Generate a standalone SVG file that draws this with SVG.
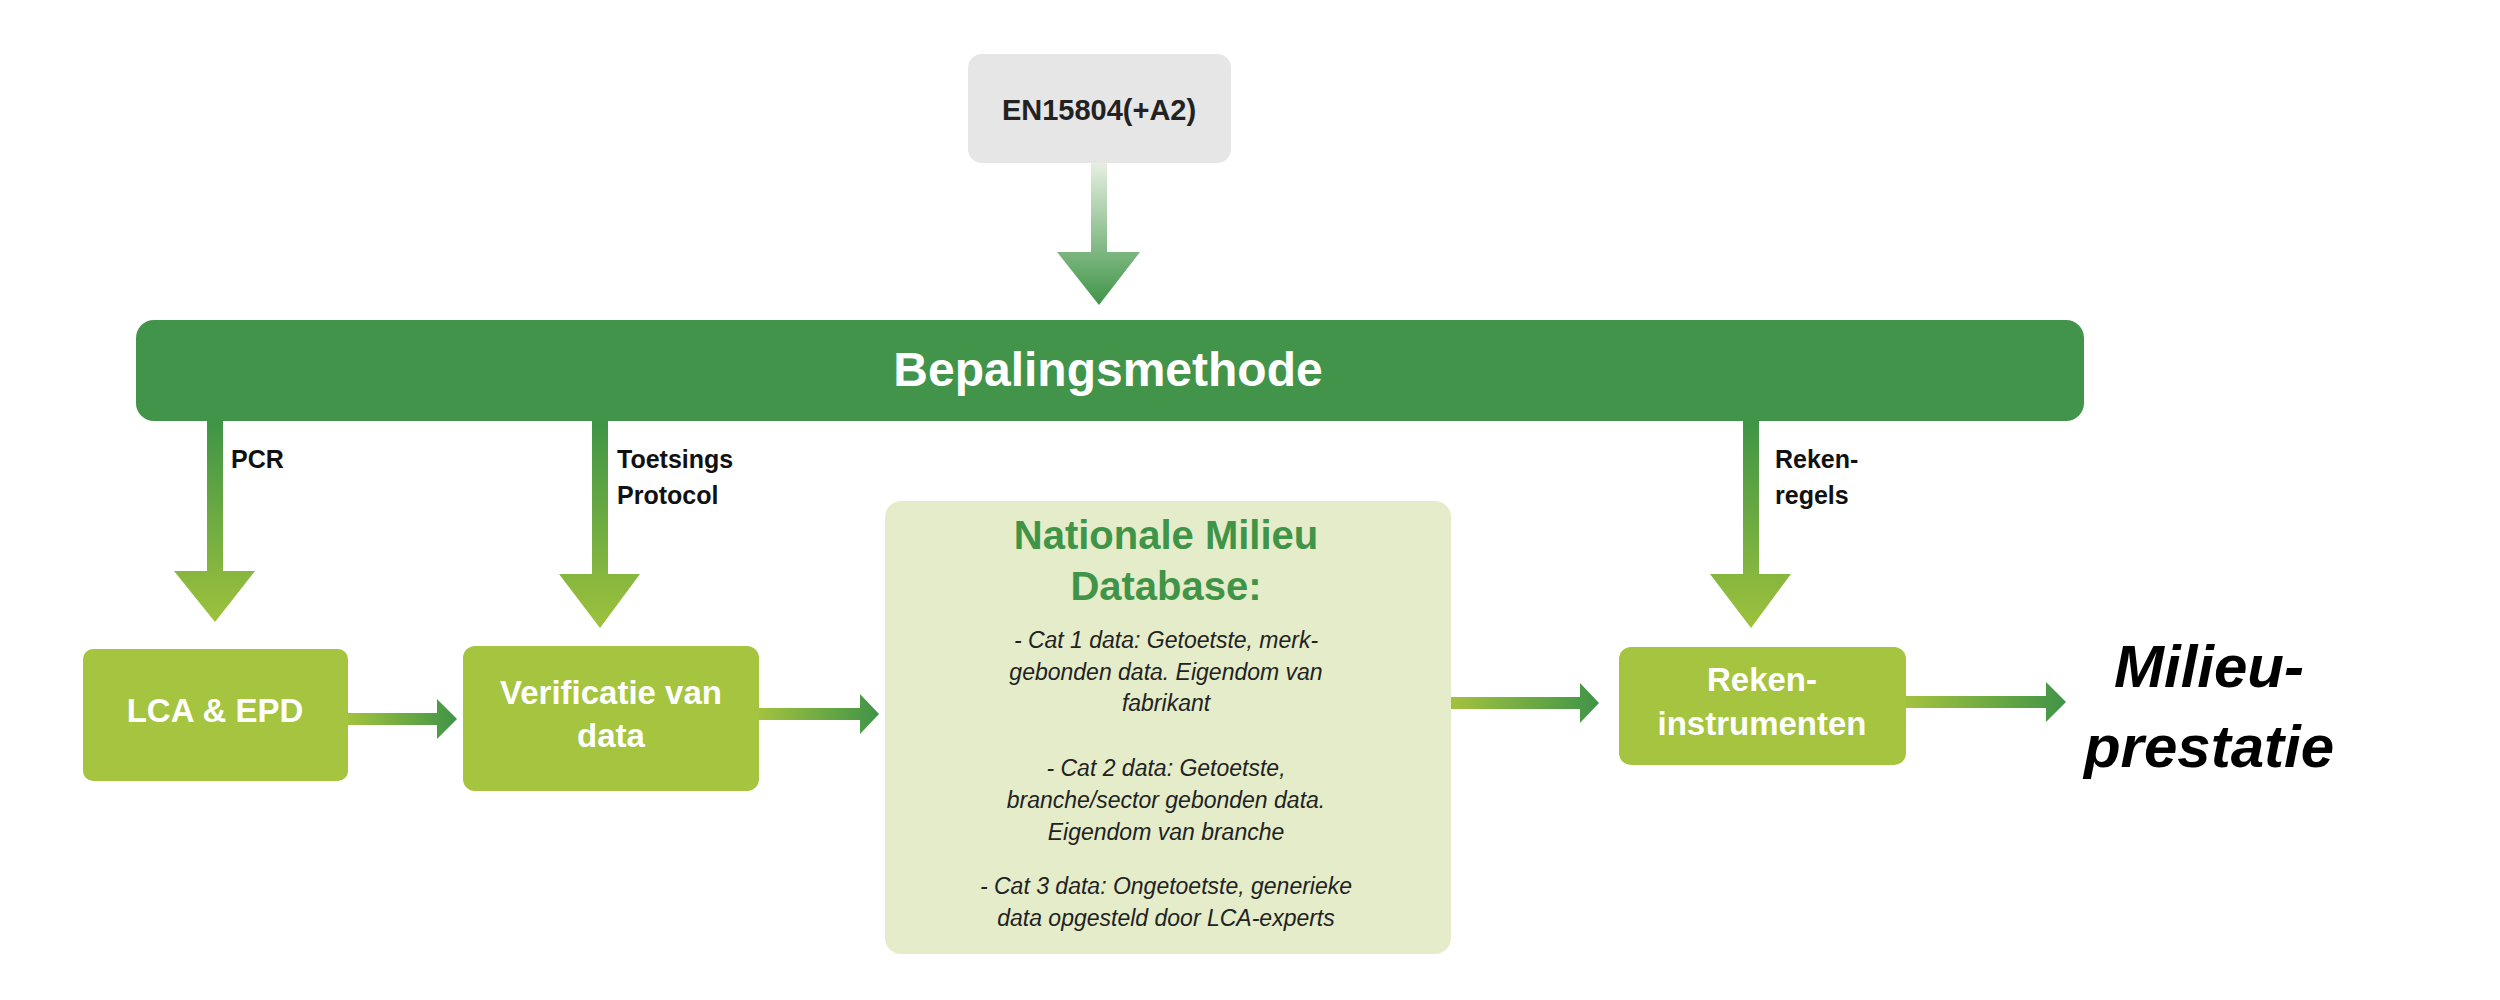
<svg xmlns="http://www.w3.org/2000/svg" width="2500" height="1000" viewBox="0 0 2500 1000">
<defs>
<linearGradient id="gv" x1="0" y1="0" x2="0" y2="1"><stop offset="0" stop-color="#3f9447"/><stop offset="1" stop-color="#9ec23c"/></linearGradient>
<linearGradient id="gen" x1="0" y1="0" x2="0" y2="1"><stop offset="0" stop-color="#e6efe0"/><stop offset="1" stop-color="#3f9447"/></linearGradient>
<linearGradient id="gh" x1="0" y1="0" x2="1" y2="0"><stop offset="0" stop-color="#a3c23f"/><stop offset="1" stop-color="#3f9447"/></linearGradient>
<style>
text{font-family:"Liberation Sans",Arial,sans-serif;text-anchor:middle}
.w{fill:#fff;font-weight:bold;font-size:33px}
.lbl{fill:#111;font-weight:bold;font-size:25px;text-anchor:start}
.it{fill:#222;font-style:italic;font-size:23px}
.lb{fill:#a5c43f}
</style>
</defs>
<rect width="2500" height="1000" fill="#fff"/>
<g id="en"><rect x="968" y="54" width="263" height="109" rx="14" fill="#e6e6e6"/><text x="1099" y="120" font-size="29" font-weight="bold" fill="#222">EN15804(+A2)</text></g>
<g id="bepaling"><rect x="136" y="320" width="1948" height="101" rx="18" fill="#41944a"/><text x="1108" y="386" font-size="48" font-weight="bold" fill="#fff">Bepalingsmethode</text></g>
<g id="lca"><rect class="lb" x="83" y="649" width="265" height="132" rx="10"/><text class="w" x="215" y="722">LCA &amp; EPD</text></g>
<g id="verif"><rect class="lb" x="463" y="646" width="296" height="145" rx="12"/><text class="w" x="611" y="704">Verificatie van</text><text class="w" x="611" y="747">data</text></g>
<g id="nmd"><rect x="885" y="501" width="566" height="453" rx="16" fill="#e4ecca"/>
<text x="1166" y="549" font-size="40" font-weight="bold" fill="#3f9447">Nationale Milieu</text>
<text x="1166" y="600" font-size="40" font-weight="bold" fill="#3f9447">Database:</text>
<text class="it" x="1166" y="648">- Cat 1 data: Getoetste, merk-</text>
<text class="it" x="1166" y="680">gebonden data. Eigendom van</text>
<text class="it" x="1166" y="711">fabrikant</text>
<text class="it" x="1166" y="776">- Cat 2 data: Getoetste,</text>
<text class="it" x="1166" y="808">branche/sector gebonden data.</text>
<text class="it" x="1166" y="840">Eigendom van branche</text>
<text class="it" x="1166" y="894">- Cat 3 data: Ongetoetste, generieke</text>
<text class="it" x="1166" y="926">data opgesteld door LCA-experts</text></g>
<g id="reken"><rect class="lb" x="1619" y="647" width="287" height="118" rx="12"/><text class="w" x="1762" y="691">Reken-</text><text class="w" x="1762" y="735">instrumenten</text></g>
<g id="milieu"><text x="2209" y="687" font-size="60" font-weight="bold" font-style="italic" fill="#000">Milieu-</text><text x="2209" y="767" font-size="60" font-weight="bold" font-style="italic" fill="#000">prestatie</text></g>
<g id="connectors">
<path d="M1091 163H1107V252H1140L1099 305L1057 252H1091Z" fill="url(#gen)"/>
<path d="M207 421H223V571H255L215 622L174 571H207Z" fill="url(#gv)"/>
<path d="M592 421H608V574H640L600 628L559 574H592Z" fill="url(#gv)"/>
<path d="M1743 421H1759V574H1791L1751 628L1710 574H1743Z" fill="url(#gv)"/>
<path d="M348 713H437V699L457 719L437 739V725H348Z" fill="url(#gh)"/>
<path d="M759 708H860V694L879 714L860 734V720H759Z" fill="url(#gh)"/>
<path d="M1451 697H1580V683L1599 703L1580 723V709H1451Z" fill="url(#gh)"/>
<path d="M1906 696H2046V682L2066 702L2046 722V708H1906Z" fill="url(#gh)"/>
<text class="lbl" x="231" y="468">PCR</text>
<text class="lbl" x="617" y="468">Toetsings</text>
<text class="lbl" x="617" y="504">Protocol</text>
<text class="lbl" x="1775" y="468">Reken-</text>
<text class="lbl" x="1775" y="504">regels</text>
</g>
</svg>
